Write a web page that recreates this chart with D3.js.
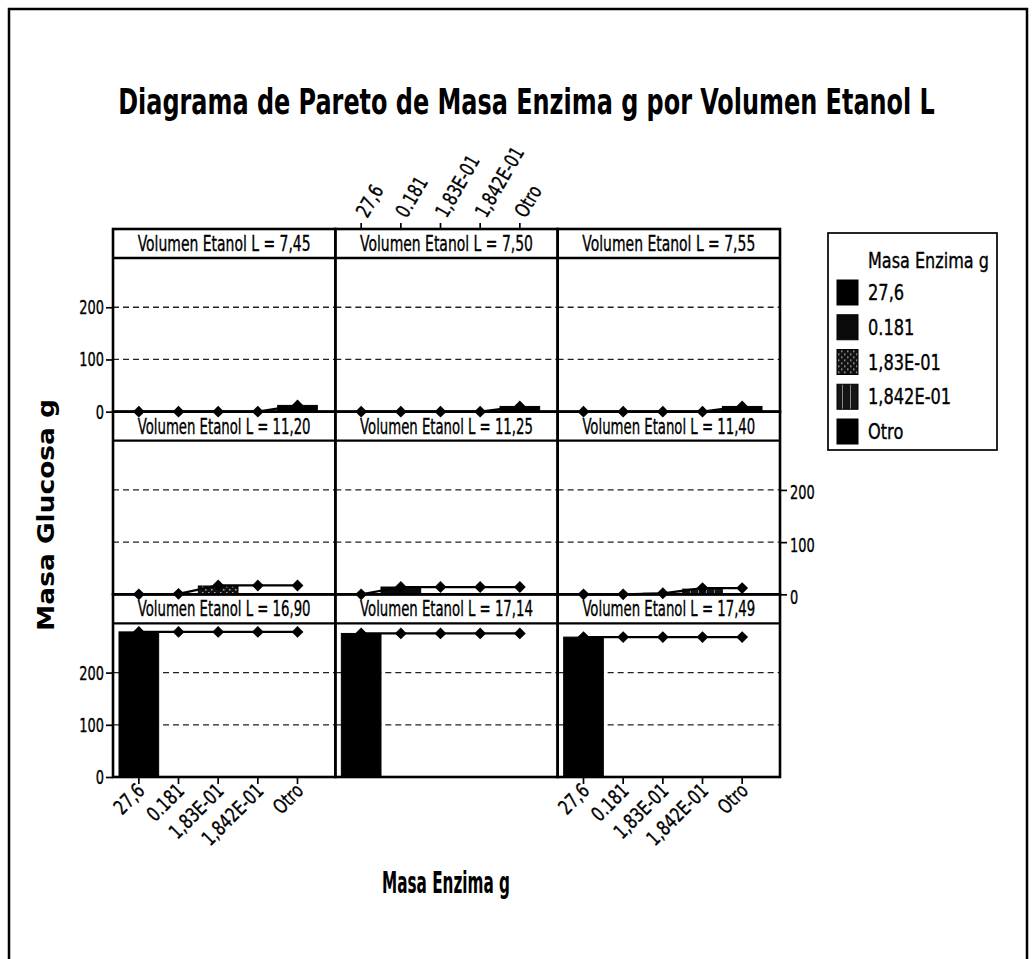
<!DOCTYPE html>
<html>
<head>
<meta charset="utf-8">
<script src="https://cdn.jsdelivr.net/npm/d3@7/dist/d3.min.js"></script>
<style>
  html, body { margin: 0; padding: 0; background: #fff; }
  svg { display: block; }
  text { fill: #000; }
</style>
</head>
<body>
<svg id="chart" width="1033" height="959"></svg>
<script>
// Enzyme mass categories (x axis of every panel)
const categories = ["27,6", "0.181", "1,83E-01", "1,842E-01", "Otro"];

// Ethanol volume of each panel, read left-to-right, top-to-bottom
const volumes = ["7,45", "7,50", "7,55", "11,20", "11,25", "11,40", "16,90", "17,14", "17,49"];

// Glucose mass per enzyme category, one list per panel
const glucose_7_45  = [0, 0, 0, 0, 12];
const glucose_7_50  = [0, 0, 0, 0, 10];
const glucose_7_55  = [0, 0, 0, 0, 10];
const glucose_11_20 = [0, 1, 16, 0, 0];
const glucose_11_25 = [0, 14, 0, 0, 0];
const glucose_11_40 = [0, 0, 2, 10, 0];
const glucose_16_90 = [278, 0, 0, 0, 0];
const glucose_17_14 = [275, 0, 0, 0, 0];
const glucose_17_49 = [268, 0, 0, 0, 0];

const panelValues = [glucose_7_45, glucose_7_50, glucose_7_55,
                     glucose_11_20, glucose_11_25, glucose_11_40,
                     glucose_16_90, glucose_17_14, glucose_17_49];

const yTicks = [0, 100, 200];

const svg = d3.select("#chart");
const cond = "'DejaVu Sans Condensed', 'DejaVu Sans', sans-serif";

// narrow, slightly heavy lettering used throughout the panels
function lettering(sel, size) {
  sel.style("font-family", cond).style("font-size", size + "px")
     .attr("stroke", "#000").attr("stroke-width", 0.35);
  return sel;
}

// squeeze a text horizontally so that it spans the given width
function fitWidth(sel, width, anchorX, anchorY, rotate) {
  const w = sel.node().getComputedTextLength();
  const sx = width / w;
  sel.attr("transform", `translate(${anchorX},${anchorY})${rotate ? ` rotate(${rotate})` : ""} scale(${sx},1)`);
  return sel;
}

// page frame
svg.append("path")
  .attr("d", "M9,965 L9,9 L1027,9 L1027,965")
  .attr("fill", "none").attr("stroke", "#000").attr("stroke-width", 2.5);

// title
const title = svg.append("text")
  .attr("text-anchor", "middle")
  .style("font-family", cond)
  .style("font-weight", "bold").style("font-size", "36px")
  .text("Diagrama de Pareto de Masa Enzima g por Volumen Etanol L");
fitWidth(title, 817, 526.5, 114);

// fill patterns for the two hatched categories
const defs = svg.append("defs");
const p1 = defs.append("pattern").attr("id", "pat183")
  .attr("width", 6).attr("height", 6).attr("patternUnits", "userSpaceOnUse");
p1.append("rect").attr("width", 6).attr("height", 6).attr("fill", "#111");
p1.append("rect").attr("x", 1).attr("y", 1).attr("width", 1.5).attr("height", 1.5).attr("fill", "#aaa");
p1.append("rect").attr("x", 4).attr("y", 4).attr("width", 1.5).attr("height", 1.5).attr("fill", "#aaa");
const p2 = defs.append("pattern").attr("id", "pat1842")
  .attr("width", 8).attr("height", 8).attr("patternUnits", "userSpaceOnUse");
p2.append("rect").attr("width", 8).attr("height", 8).attr("fill", "#151515");
p2.append("rect").attr("x", 2).attr("y", 0).attr("width", 1).attr("height", 8).attr("fill", "#888");

const fillFor = d3.scaleOrdinal()
  .domain(categories)
  .range(["#000", "#0a0a0a", "url(#pat183)", "url(#pat1842)", "#000"]);

// grid geometry
const gridLeft = 113, gridRight = 780, gridTop = 229, gridBottom = 777;
const nCols = 3, nRows = 3;
const colW = (gridRight - gridLeft) / nCols;
const rowH = (gridBottom - gridTop) / nRows;
const stripH = 29;
const plotH = rowH - stripH;
const yMax = plotH / 0.522;

function styleTicks(ax) {
  ax.select(".domain").remove();
  ax.selectAll("line").attr("stroke", "#000").attr("stroke-width", 1.7);
}

volumes.forEach((vol, i) => {
  const col = i % nCols, row = Math.floor(i / nCols);
  const x0 = gridLeft + col * colW, x1 = x0 + colW;
  const top = gridTop + row * rowH;
  const pTop = top + stripH, pBottom = top + rowH;

  const x = d3.scaleBand().domain(categories).range([x0 + 6, x1 - 18]).padding(0);
  const y = d3.scaleLinear().domain([0, yMax]).range([pBottom, pTop]);

  const g = svg.append("g");

  // dashed reference lines
  g.selectAll("line.grid").data(yTicks.filter(t => t > 0)).join("line")
    .attr("x1", x0).attr("x2", x1)
    .attr("y1", d => y(d)).attr("y2", d => y(d))
    .attr("stroke", "#222").attr("stroke-width", 1.3)
    .attr("stroke-dasharray", "6,4");

  const vals = panelValues[i];
  const data = categories.map((c, k) => ({ cat: c, v: vals[k] }));

  // bars
  g.selectAll("rect.bar").data(data.filter(d => d.v > 0)).join("rect")
    .attr("x", d => x(d.cat)).attr("width", x.bandwidth())
    .attr("y", d => y(d.v)).attr("height", d => y(0) - y(d.v))
    .attr("fill", d => fillFor(d.cat))
    .attr("stroke", "#000").attr("stroke-width", 1);

  // cumulative line
  let acc = 0;
  const cum = data.map(d => ({ cat: d.cat, c: (acc += d.v) }));
  g.append("path").datum(cum)
    .attr("fill", "none").attr("stroke", "#000").attr("stroke-width", 2.2)
    .attr("d", d3.line().x(d => x(d.cat) + x.bandwidth() / 2).y(d => y(d.c)));
  g.selectAll("path.pt").data(cum).join("path")
    .attr("transform", d => `translate(${x(d.cat) + x.bandwidth() / 2},${y(d.c)}) rotate(45)`)
    .attr("d", d3.symbol(d3.symbolSquare, 70)())
    .attr("fill", "#000");

  // panel and strip borders
  g.append("rect").attr("x", x0).attr("y", top).attr("width", colW).attr("height", rowH)
    .attr("fill", "none").attr("stroke", "#000").attr("stroke-width", 2.6);
  g.append("line").attr("x1", x0).attr("x2", x1).attr("y1", pTop).attr("y2", pTop)
    .attr("stroke", "#000").attr("stroke-width", 2.4);
  const strip = lettering(g.append("text"), 21)
    .attr("text-anchor", "middle")
    .text(`Volumen Etanol L = ${vol}`);
  fitWidth(strip, 173, (x0 + x1) / 2, top + 22);

  // y axes: left on rows 1 and 3, right on row 2
  if (col === 0 && row !== 1) {
    const ax = g.append("g").attr("transform", `translate(${x0},0)`)
      .call(d3.axisLeft(y).tickValues(yTicks).tickSize(7));
    styleTicks(ax);
    lettering(ax.selectAll("text"), 20)
      .attr("x", 0).attr("transform", "translate(-9,0) scale(0.72,1)");
  }
  if (col === 2 && row === 1) {
    const ax = g.append("g").attr("transform", `translate(${x1},0)`)
      .call(d3.axisRight(y).tickValues(yTicks).tickSize(7));
    styleTicks(ax);
    lettering(ax.selectAll("text"), 20)
      .attr("x", 0).attr("dy", "0.45em")
      .attr("transform", "translate(10,0) scale(0.72,1)");
  }

  // category axis on top of the middle column, bottom of outer columns
  if (row === 0 && col === 1) {
    const ax = g.append("g").attr("transform", `translate(0,${top})`)
      .call(d3.axisTop(x).tickSize(6));
    styleTicks(ax);
    lettering(ax.selectAll("text"), 20)
      .attr("text-anchor", "start")
      .attr("x", 0).attr("y", 0).attr("dy", 0)
      .attr("transform", "translate(6,-10) rotate(-60) scale(0.84,1)");
  }
  if (row === 2 && col !== 1) {
    const ax = g.append("g").attr("transform", `translate(0,${pBottom})`)
      .call(d3.axisBottom(x).tickSize(7));
    styleTicks(ax);
    lettering(ax.selectAll("text"), 20)
      .attr("text-anchor", "end")
      .attr("x", 0).attr("y", 0).attr("dy", 0)
      .attr("transform", "translate(7,15) rotate(-45) scale(0.84,1)");
  }
});

// axis titles
const yTitle = svg.append("text")
  .attr("text-anchor", "middle")
  .style("font-family", "'DejaVu Sans', sans-serif")
  .style("font-weight", "bold").style("font-size", "23px")
  .text("Masa Glucosa g");
fitWidth(yTitle, 232, 54, 515, -90);

const xTitle = svg.append("text")
  .attr("text-anchor", "middle")
  .style("font-family", cond)
  .style("font-weight", "bold").style("font-size", "30px")
  .text("Masa Enzima g");
fitWidth(xTitle, 128, 446, 893);

// legend
const lg = svg.append("g");
lg.append("rect").attr("x", 828).attr("y", 233).attr("width", 169).attr("height", 217)
  .attr("fill", "#fff").attr("stroke", "#000").attr("stroke-width", 1.7);
lettering(lg.append("text"), 21)
  .attr("transform", "translate(868,268) scale(0.85,1)")
  .text("Masa Enzima g");
const legY = d3.scalePoint().domain(categories).range([292, 431]);
const items = lg.selectAll("g.item").data(categories).join("g")
  .attr("transform", d => `translate(0,${legY(d)})`);
items.append("rect").attr("x", 837).attr("y", -12).attr("width", 21).attr("height", 25)
  .attr("fill", d => fillFor(d)).attr("stroke", "#000");
lettering(items.append("text"), 22)
  .attr("transform", "translate(868,8) scale(0.82,1)")
  .text(d => d);
</script>
</body>
</html>
